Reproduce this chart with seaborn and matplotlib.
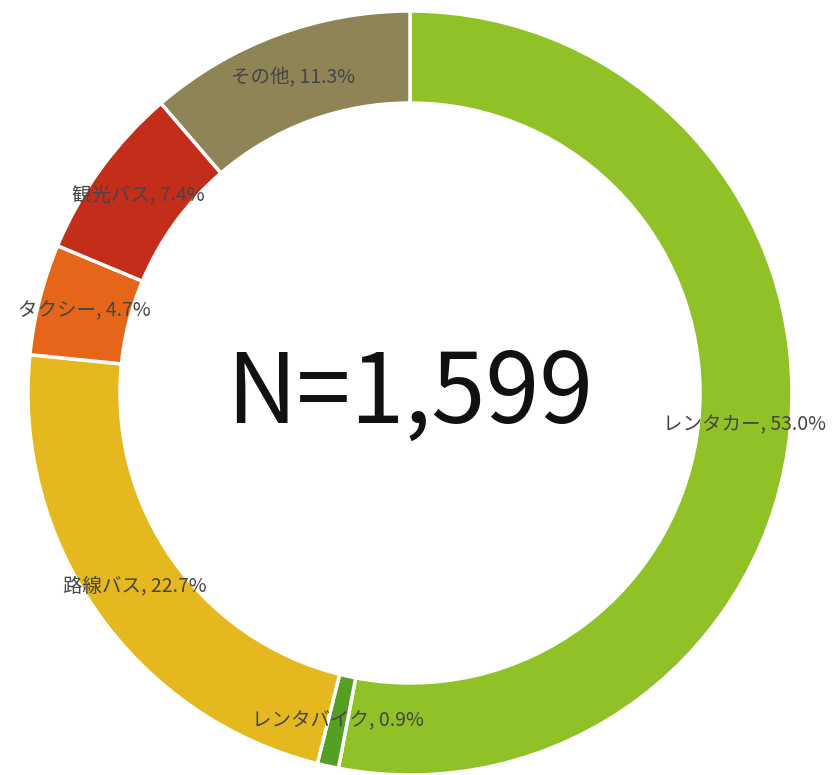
import matplotlib
matplotlib.use('Agg')
import matplotlib.pyplot as plt
import seaborn as sns

# data
categories = ['レンタカー', 'レンタバイク', '路線バス', 'タクシー', '観光バス', 'その他']
shares = [53.0, 0.9, 22.7, 4.7, 7.4, 11.3]
colors = ['#90c227', '#55a023', '#e5b820', '#e66619', '#c32e1b', '#8f8456']
total_n = 1599

sns.set_style('white')
plt.rcParams['font.family'] = ['Noto Sans CJK JP', 'DejaVu Sans']

W, H = 837, 775
fig = plt.figure(figsize=(W / 100, H / 100), dpi=100)
ax = fig.add_axes([0, 0, 1, 1])

outer = 382
ring = 92
labels = [f'{c}, {v:.1f}%' for c, v in zip(categories, shares)]

# donut, clockwise from 12 o'clock, labels in the middle of the ring
wedges, texts = ax.pie(shares, labels=labels, colors=colors,
                       startangle=90, counterclock=False,
                       center=(410, H - 393), radius=outer,
                       labeldistance=(outer - ring / 2) / outer,
                       wedgeprops=dict(width=ring, edgecolor='white', linewidth=2.5),
                       textprops=dict(fontsize=14, color='#454545'),
                       frame=True)
for t in texts:
    t.set_horizontalalignment('center')
    t.set_verticalalignment('center')

ax.set_xlim(0, W)
ax.set_ylim(0, H)
ax.set_aspect('equal')
ax.axis('off')

ax.text(410, H - 395, f'N={total_n:,}', ha='center', va='center',
        fontsize=70, color='#111111')

fig.savefig('out.png', dpi=100)
